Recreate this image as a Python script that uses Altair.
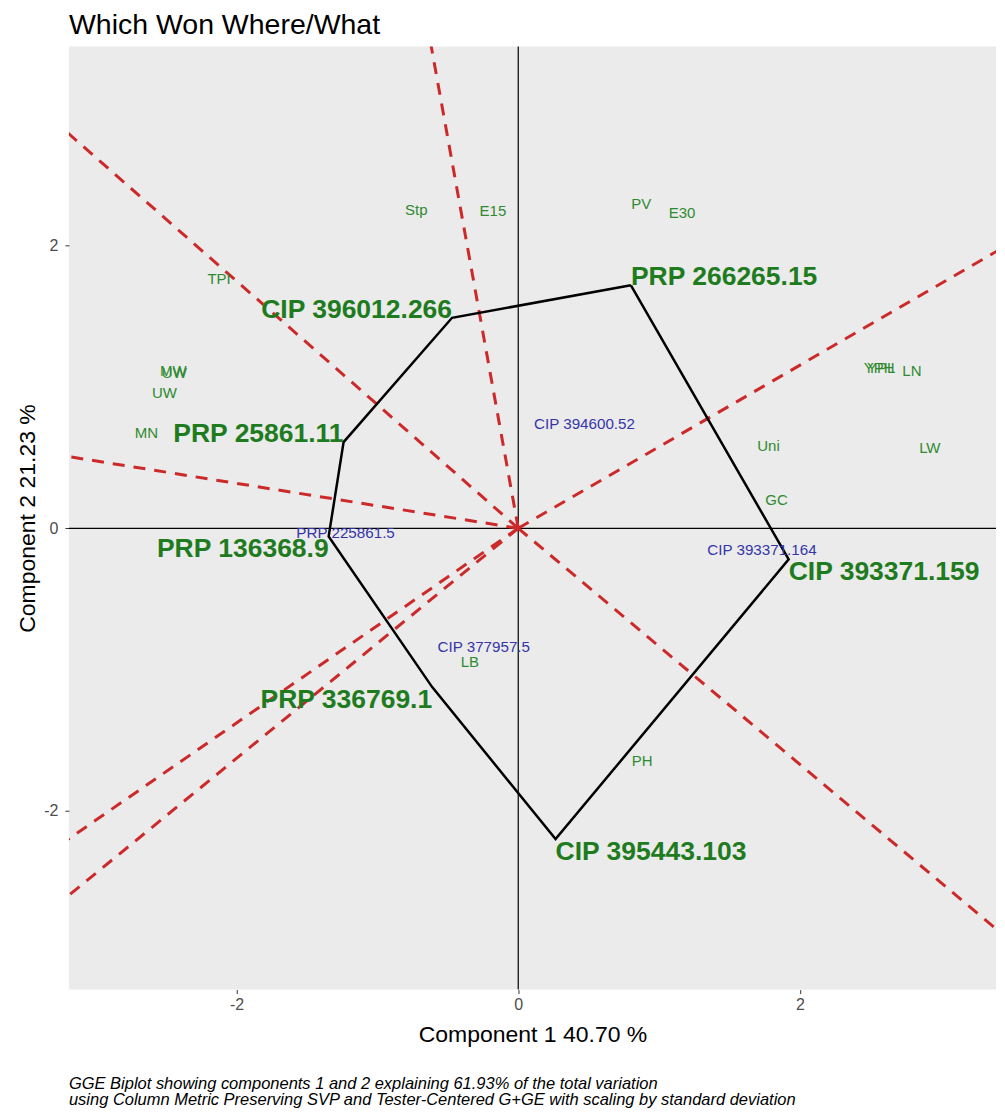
import altair as alt
import numpy as np
import pandas as pd

# ---------------- data ----------------
hull_names = ["PRP 266265.15", "CIP 393371.159", "CIP 395443.103", "PRP 336769.1",
              "PRP 136368.9", "PRP 25861.11", "CIP 396012.266"]
hull_x = [0.80, 1.92, 0.265, -0.611, -1.346, -1.24, -0.47]
hull_y = [1.72, -0.22, -2.20, -1.124, -0.057, 0.61, 1.49]

gen_names = ["CIP 394600.52", "PRP 225861.5", "CIP 393371.164", "CIP 377957.5"]
gen_x = [0.47, -1.226, 1.73, -0.245]
gen_y = [0.735, -0.03, -0.155, -0.84]

env_names = ["Stp", "E15", "PV", "E30", "TPI", "MW", "UW", "UW", "MN",
             "YPH", "YPL", "LN", "LW", "Uni", "GC", "LB", "PH"]
env_x = [-0.724, -0.18, 0.873, 1.163, -2.124, -2.449, -2.442, -2.512, -2.640,
         2.562, 2.576, 2.795, 2.922, 1.777, 1.834, -0.343, 0.880]
env_y = [2.254, 2.247, 2.297, 2.233, 1.767, 1.110, 1.102, 0.961, 0.671,
         1.138, 1.131, 1.110, 0.565, 0.580, 0.198, -0.947, -1.647]

x_domain = [-3.19, 3.392]
y_domain = [-3.265, 3.41]
x_ticks = [-2, 0, 2]
y_ticks = [-2, 0, 2]

title_text = "Which Won Where/What"
x_title = "Component 1 40.70 %"
y_title = "Component 2 21.23 %"
caption_lines = [
    "GGE Biplot showing components 1 and 2 explaining 61.93% of the total variation",
    "using Column Metric Preserving SVP and Tester-Centered G+GE with scaling by standard deviation",
]

# ---------------- derived tables ----------------
W, H = 928, 944
FONT = "Liberation Sans"
GREEN_BIG = "#1e7b1e"
GREEN = "#2f8a2f"
BLUE = "#3535a8"
RED = "#cc2a2a"

hull = pd.DataFrame({"name": hull_names, "x": hull_x, "y": hull_y})
hull_closed = pd.DataFrame({
    "x": hull_x + hull_x[:1],
    "y": hull_y + hull_y[:1],
    "i": list(range(len(hull_x) + 1)),
})

hx = np.array(hull_x)
hy = np.array(hull_y)
hx2 = np.roll(hx, -1)
hy2 = np.roll(hy, -1)
ddx = hx2 - hx
ddy = hy2 - hy
nx, ny = ddy, -ddx
sgn = np.sign(nx * hx + ny * hy)
nx, ny = nx * sgn, ny * sgn
ln = np.hypot(nx, ny)
rays = pd.DataFrame({"x": 0.0, "y": 0.0, "x2": nx / ln * 12, "y2": ny / ln * 12})

gens = pd.DataFrame({"name": gen_names, "x": gen_x, "y": gen_y})
envs = pd.DataFrame({"name": env_names, "x": env_x, "y": env_y})
zero = pd.DataFrame({"v": [0.0]})
caption = pd.DataFrame({"t": ["\n".join(caption_lines)]})

xs = alt.Scale(domain=x_domain, nice=False, zero=False)
ys = alt.Scale(domain=y_domain, nice=False, zero=False)

xaxis = alt.Axis(values=x_ticks, grid=False, domain=False, tickColor="#333333",
                 tickSize=4, tickWidth=1, labelFontSize=16, labelColor="#4D4D4D",
                 labelFont=FONT, labelPadding=3, labelExpr="'' + datum.value",
                 titleFont=FONT, titleFontSize=23, titleFontWeight="normal",
                 titleColor="black", titlePadding=11)
yaxis = alt.Axis(values=y_ticks, grid=False, domain=False, tickColor="#333333",
                 tickSize=4, tickWidth=1, labelFontSize=16, labelColor="#4D4D4D",
                 labelFont=FONT, labelPadding=7, labelExpr="'' + datum.value",
                 titleFont=FONT, titleFontSize=23, titleFontWeight="normal",
                 titleColor="black", titlePadding=4)


def X(f):
    return alt.X(f, type="quantitative", scale=xs, axis=xaxis, title=x_title)


def Y(f):
    return alt.Y(f, type="quantitative", scale=ys, axis=yaxis, title=y_title)


vline = alt.Chart(zero).mark_rule(color="black", strokeWidth=1.2).encode(x=X("v"))
hline = alt.Chart(zero).mark_rule(color="black", strokeWidth=1.2).encode(y=Y("v"))

ray_layer = alt.Chart(rays).mark_rule(
    color=RED, strokeWidth=3, strokeDash=[12, 9], clip=True
).encode(x=X("x"), y=Y("y"), x2="x2:Q", y2="y2:Q")

hull_layer = alt.Chart(hull_closed).mark_line(
    color="black", strokeWidth=2.5, strokeJoin="miter", clip=True
).encode(x=X("x"), y=Y("y"), order=alt.Order("i:Q"))

hull_labels = []
for cond, al, bl in [
    ("datum.x > 0 && datum.y > 0", "left", "alphabetic"),
    ("datum.x > 0 && datum.y <= 0", "left", "top"),
    ("datum.x <= 0 && datum.y > 0", "right", "alphabetic"),
    ("datum.x <= 0 && datum.y <= 0", "right", "top"),
]:
    hull_labels.append(
        alt.Chart(hull).transform_filter(cond).mark_text(
            align=al, baseline=bl, font=FONT, fontSize=26.5, fontWeight="bold",
            color=GREEN_BIG
        ).encode(x=X("x"), y=Y("y"), text="name:N")
    )

gen_layer = alt.Chart(gens).mark_text(
    align="center", baseline="middle", font=FONT, fontSize=15.2, color=BLUE
).encode(x=X("x"), y=Y("y"), text="name:N")

env_layer = alt.Chart(envs).mark_text(
    align="center", baseline="middle", font=FONT, fontSize=15, color=GREEN
).encode(x=X("x"), y=Y("y"), text="name:N")

cap_layer = alt.Chart(caption).mark_text(
    align="left", baseline="top", font=FONT, fontSize=16.5, fontStyle="italic",
    lineBreak="\n", lineHeight=16, color="black"
).encode(x=alt.value(0), y=alt.value(H + 87), text="t:N")

chart = alt.layer(
    vline, hline, ray_layer, hull_layer, env_layer, gen_layer, *hull_labels, cap_layer
).properties(
    width=W, height=H,
    title=alt.TitleParams(title_text, anchor="start", frame="group", fontSize=28.5,
                          font=FONT, fontWeight="normal", color="black", offset=6),
    padding={"left": 8, "top": 2, "right": 0, "bottom": 0},
).configure_view(fill="#EBEBEB", strokeWidth=0)

chart.save("out.html", embed_options={"renderer": "svg", "actions": False})
